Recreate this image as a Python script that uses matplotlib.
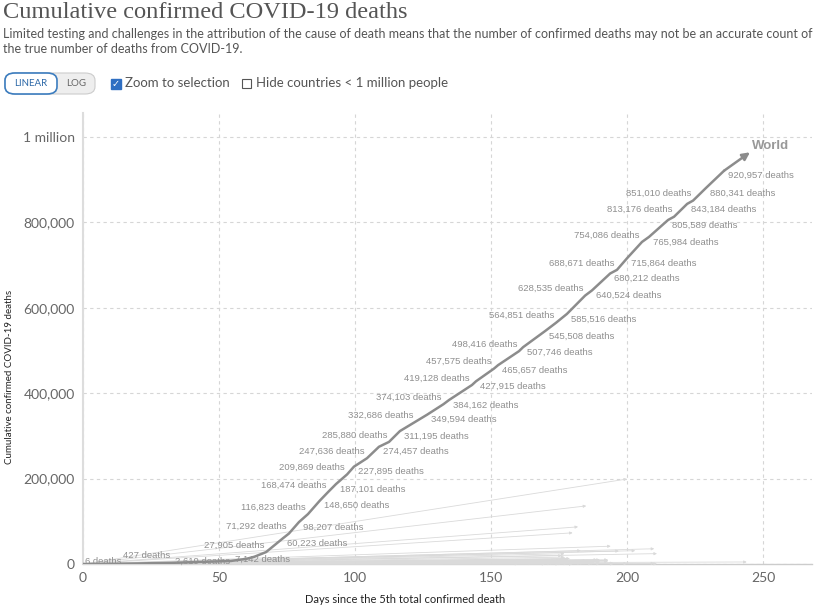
import matplotlib.pyplot as plt
from matplotlib.patches import FancyBboxPatch, Rectangle
import numpy as np

# World series: days since 5th death, cumulative deaths
world_days = [0, 12, 32.4, 54.4, 60, 63, 67.3, 73.5, 75.7, 79.4, 82.7, 87.1, 90.1, 93,
              97.1, 99.6, 104.4, 108.8, 112.5, 116.5, 122.1, 126.5, 132.5, 134.6, 143,
              144.5, 151.1, 152.6, 160.3, 161.8, 169.9, 173.9, 177.9, 184.6, 187.1, 193.8,
              196.3, 200, 205.5, 208.1, 215.1, 217.3, 222.1, 224.3, 229, 235.7, 245.2]
world_deaths = [6, 427, 2619, 7142, 12000, 17000, 27905, 60223, 71292, 98207, 116823,
                148650, 168474, 187101, 209869, 227895, 247636, 274457, 285880, 311195,
                332686, 349594, 374103, 384162, 419128, 427915, 457575, 465657, 498416,
                507746, 545508, 564851, 585516, 628535, 640524, 680212, 688671, 715864,
                754086, 765984, 805589, 813176, 843184, 851010, 880341, 920957, 964000]
# which side of the line each value label sits on ('' = no label)
label_side = ['r', 'a', 'r', 'r', '', '', 'l', 'r', 'l', 'r', 'l', 'r', 'l', 'r',
              'l', 'r', 'l', 'r', 'l', 'r', 'l', 'r', 'l', 'r', 'l',
              'r', 'l', 'r', 'l', 'r', 'r', 'l', 'r', 'l', 'r', 'r',
              'l', 'r', 'l', 'r', 'r', 'l', 'r', 'l', 'r', 'r', '']

# other countries, drawn faintly: end day and end value
country_days = [200, 185, 182, 180, 194, 210, 183, 203, 197, 211, 177, 176, 177, 179,
                178, 178, 190, 189, 193, 193, 193, 185, 193, 188, 190, 172, 180, 190,
                178, 244, 170, 178, 172, 173, 195, 182, 188, 184, 187, 210, 211, 180,
                180, 180, 180, 183, 170, 172, 165, 170, 172, 187, 180, 175, 190, 195,
                180, 180, 176, 178, 170, 175, 200, 180, 170, 160]
country_deaths = [199000, 136000, 87000, 73000, 41700, 35700, 31300, 31200, 30500, 24300,
                  24000, 19500, 16000, 12800, 12300, 11100, 9800, 9950, 9400, 9250, 8400,
                  7700, 6300, 5500, 5860, 7700, 6400, 5100, 4900, 4740, 4500, 3300, 3200,
                  2100, 1760, 4400, 2300, 1900, 1790, 1500, 370, 1300, 2300, 2000, 1700,
                  1650, 1700, 1090, 1000, 640, 1450, 770, 730, 500, 640, 350, 740, 840,
                  1100, 900, 900, 550, 850, 130, 830, 400]

y_ticks = [0, 200000, 400000, 600000, 800000, 1000000]
y_tick_labels = ['0', '200,000', '400,000', '600,000', '800,000', '1 million']
x_ticks = [0, 50, 100, 150, 200, 250]

W, H = 828, 608
fig = plt.figure(figsize=(W / 100, H / 100), dpi=100)
ax = fig.add_axes([83 / W, 1 - 564 / H, (812 - 83) / W, (564 - 113) / H])

def fx(px):
    return px / W

def fy(py):
    return 1 - py / H

# header
fig.text(fx(3), fy(13), 'Cumulative confirmed COVID-19 deaths', family='Liberation Serif',
         fontsize=17.6, color='#555555', va='center', ha='left')
fig.text(fx(3), fy(34), 'Limited testing and challenges in the attribution of the cause of death '
         'means that the number of confirmed deaths may not be an accurate count of',
         family='Lato', fontsize=9.0, color='#555555', va='center')
fig.text(fx(3), fy(49), 'the true number of deaths from COVID-19.',
         family='Lato', fontsize=9.0, color='#555555', va='center')

# controls
fig.add_artist(FancyBboxPatch((fx(5), fy(94)), fx(90), 21 / H,
                              boxstyle='round,pad=0,rounding_size=0.012',
                              fc='#eeeeee', ec='#cccccc', lw=0.8, transform=fig.transFigure))
fig.add_artist(FancyBboxPatch((fx(5), fy(94)), fx(52), 21 / H,
                              boxstyle='round,pad=0,rounding_size=0.012',
                              fc='white', ec='#3c7dbf', lw=1.2, transform=fig.transFigure))
fig.text(fx(31), fy(84), 'LINEAR', family='Lato', fontsize=7, color='#2e69a8',
         ha='center', va='center')
fig.text(fx(76), fy(84), 'LOG', family='Lato', fontsize=7, color='#666666',
         ha='center', va='center')
fig.add_artist(Rectangle((fx(111), fy(89)), fx(10), 10 / H, fc='#2f6fc2', ec='#2f6fc2',
                         transform=fig.transFigure))
fig.text(fx(116), fy(83.5), '✓', fontsize=7, color='white', ha='center', va='center',
         fontweight='bold')
fig.text(fx(125), fy(83), 'Zoom to selection', family='Lato', fontsize=9.5,
         color='#555555', va='center')
fig.add_artist(Rectangle((fx(242), fy(88)), fx(9), 9 / H, fc='white', ec='#555555',
                         lw=0.8, transform=fig.transFigure))
fig.text(fx(256), fy(83), 'Hide countries < 1 million people', family='Lato', fontsize=9.5,
         color='#555555', va='center')

# faint country lines, straight from the start to the latest value
for d, v in zip(country_days, country_deaths):
    ax.annotate('', xy=(d, v), xytext=(0, 5),
                arrowprops=dict(arrowstyle='-|>', color='#dadada', lw=0.6,
                                mutation_scale=4, shrinkA=0, shrinkB=0))

# world line
ax.plot(world_days[:-1], world_deaths[:-1], color='#8c8c8c', lw=1.8,
        solid_capstyle='round', solid_joinstyle='round', zorder=4)
ax.annotate('', xy=(world_days[-1], world_deaths[-1]),
            xytext=(world_days[-2], world_deaths[-2]),
            arrowprops=dict(arrowstyle='-|>', color='#8c8c8c', lw=1.8,
                            mutation_scale=11, shrinkA=0, shrinkB=0), zorder=4)
ax.annotate('World', xy=(world_days[-1], world_deaths[-1]), xytext=(2, 6),
            textcoords='offset pixels', fontsize=9.5, fontweight='bold',
            color='#999999', ha='left', va='center', family='Liberation Sans')

for d, v, s in zip(world_days, world_deaths, label_side):
    if not s:
        continue
    txt = f'{v:,} deaths'
    if s == 'r':
        off = (4, 2) if v < 10000 else (4, -5)
        ha = 'left'
    elif s == 'l':
        off = (-2, 7)
        ha = 'right'
    else:
        off = (7, 8)
        ha = 'left'
    if v == 6:
        off = (2, 2)
    ax.annotate(txt, xy=(d, v), xytext=off, textcoords='offset pixels', fontsize=6.8,
                color='#8f8f8f', ha=ha, va='center', family='Liberation Sans', zorder=5)

ax.set_xlim(0, 268)
ax.set_ylim(0, 1056000)
ax.set_xticks(x_ticks)
ax.set_xticklabels([str(t) for t in x_ticks])
ax.set_yticks(y_ticks)
ax.set_yticklabels(y_tick_labels)
ax.tick_params(length=0, labelsize=10, labelcolor='#666666', pad=6)
for lab in ax.get_xticklabels() + ax.get_yticklabels():
    lab.set_family('Lato')

ax.grid(True, color='#d6d6d6', lw=0.8, ls=(0, (3, 3)))
ax.set_axisbelow(True)
for s in ['top', 'right']:
    ax.spines[s].set_visible(False)
ax.spines['left'].set_color('#dddddd')
ax.spines['left'].set_linewidth(1.5)
ax.spines['bottom'].set_color('#cccccc')
ax.spines['bottom'].set_linewidth(1)

ax.set_xlabel('Days since the 5th total confirmed death', family='Lato', fontsize=8,
              color='#222222')
ax.xaxis.set_label_coords((405 - 83) / 729, -(594 - 564) / 451)
ax.set_ylabel('Cumulative confirmed COVID-19 deaths', family='Lato', fontsize=7,
              color='#222222')
ax.yaxis.set_label_coords(-(83 - 14) / 729, (564 - 377) / 451)

fig.savefig('out.png', dpi=100)
